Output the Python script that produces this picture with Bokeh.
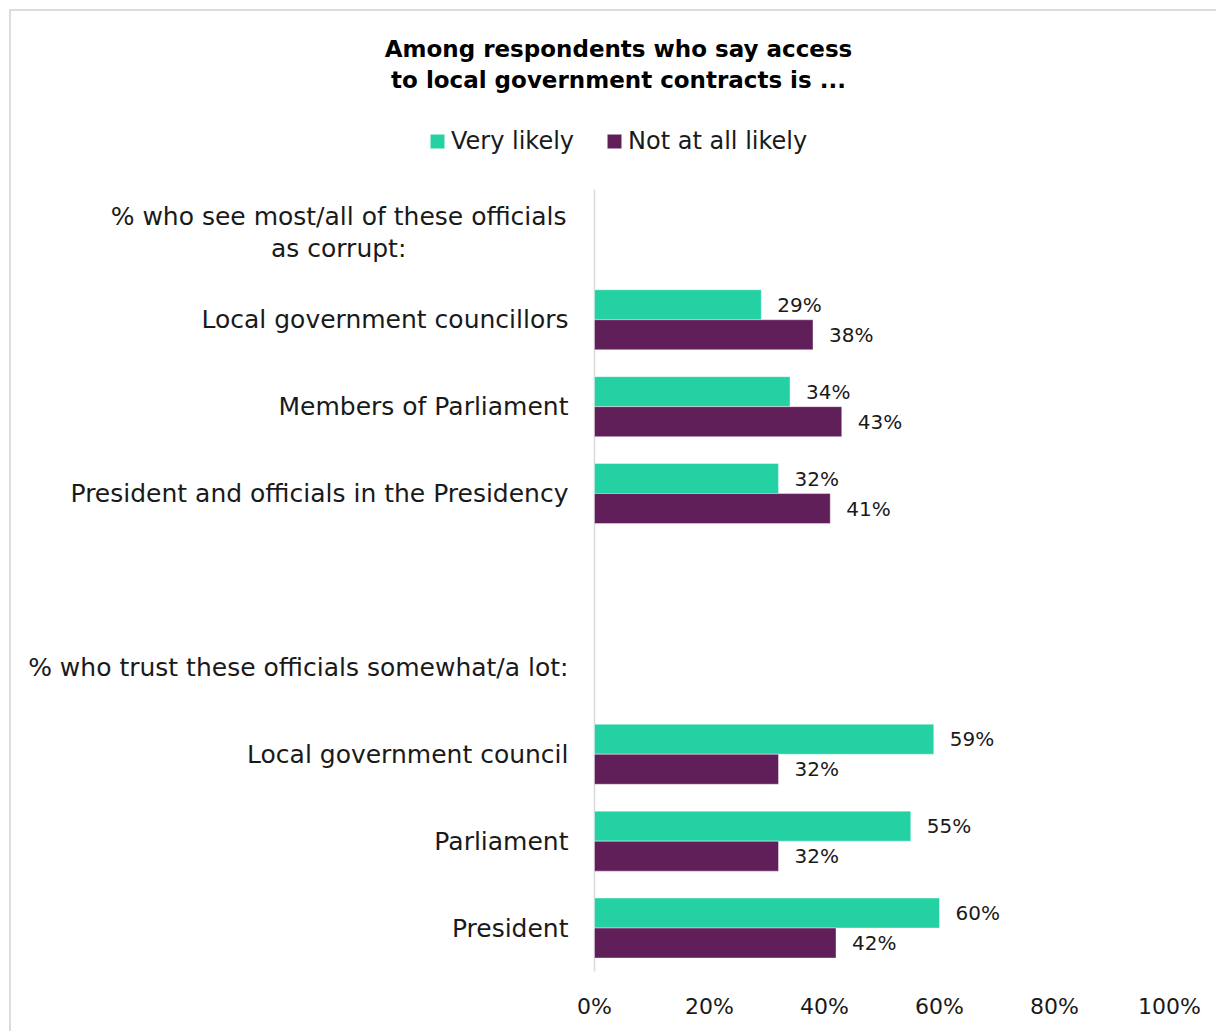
from bokeh.plotting import figure
from bokeh.models import Range1d, FixedTicker, LinearAxis, Legend, LegendItem, ColumnDataSource
from bokeh.core.properties import value
from bokeh.embed import file_html
from bokeh.resources import INLINE

# ---------------- data ----------------
title_lines = ["Among respondents who say access", "to local government contracts is ..."]
series_names = ["Very likely", "Not at all likely"]
group_headers = ["% who see most/all of these officials\nas corrupt:",
                 "% who trust these officials somewhat/a lot:"]
corrupt_categories = ["Local government councillors", "Members of Parliament",
                      "President and officials in the Presidency"]
corrupt_very_likely = [29, 34, 32]
corrupt_not_at_all = [38, 43, 41]
trust_categories = ["Local government council", "Parliament", "President"]
trust_very_likely = [59, 55, 60]
trust_not_at_all = [32, 32, 42]
tick_values = [0, 20, 40, 60, 80, 100]
tick_labels = ["0%", "20%", "40%", "60%", "80%", "100%"]

# ---------------- layout constants ----------------
GREEN = "#24D1A3"
PURPLE = "#611F5A"
TEXT = "#1a1a1a"
GRAY = "#d9d9d9"
FONT = "DejaVu Sans"

W, H = 1207, 1022
frame_h = 973
BOTTOM = H - frame_h
x0_px = 583.0          # canvas x of 0%
px_x = 5.75            # px per percentage point
y0_px = 960.0          # canvas y of row-axis 0
px_y = 86.9            # px per row

x_start = -x0_px / px_x
x_end = (W - x0_px) / px_x
y_start = -(frame_h - y0_px) / px_y
y_end = y0_px / px_y

# rows, top to bottom: header1, 3 cats, blank, header2, 3 cats
n_rows = 9
row_y = [n_rows - 0.5 - k for k in range(n_rows)]
header_y = [row_y[0], row_y[5]]
cats = corrupt_categories + trust_categories
cat_y = row_y[1:4] + row_y[6:9]
very = corrupt_very_likely + trust_very_likely
notat = corrupt_not_at_all + trust_not_at_all

off = 15.0 / px_y
bar_h = 30.0 / px_y

src_v = ColumnDataSource(dict(y=[c + off for c in cat_y], v=very, lab=[f"{v}%" for v in very]))
src_n = ColumnDataSource(dict(y=[c - off for c in cat_y], v=notat, lab=[f"{v}%" for v in notat]))

p = figure(width=W, height=H, x_range=Range1d(x_start, x_end), y_range=Range1d(y_start, y_end),
           output_backend="svg", toolbar_location=None,
           min_border_left=0, min_border_right=0, min_border_top=0, min_border_bottom=BOTTOM,
           x_axis_location=None, y_axis_location=None)
p.grid.visible = False
p.outline_line_color = None
p.background_fill_color = "white"
p.border_fill_color = "white"
p.styles = {"border-top": "2px solid #dcdcdc", "border-left": "2px solid #dcdcdc",
            "margin-top": "9px", "margin-left": "9px"}

ax = LinearAxis(ticker=FixedTicker(ticks=tick_values),
                major_label_overrides={t: l for t, l in zip(tick_values, tick_labels)},
                axis_line_color=None, major_tick_line_color=None, minor_tick_line_color=None,
                major_label_standoff=3, major_label_text_font=FONT,
                major_label_text_font_size="22px", major_label_text_color=TEXT)
p.add_layout(ax, "below")

# vertical category axis line
p.segment(x0=[0], y0=[0], x1=[0], y1=[n_rows], line_color=GRAY, line_width=1.5)

r_v = p.hbar(y="y", right="v", left=0, height=bar_h, source=src_v,
             fill_color=GREEN, line_color="white", line_alpha=0.4, line_width=1)
r_n = p.hbar(y="y", right="v", left=0, height=bar_h, source=src_n,
             fill_color=PURPLE, line_color="white", line_alpha=0.4, line_width=1)

for s in (src_v, src_n):
    p.text(x="v", y="y", text="lab", source=s, x_offset=16, text_align="left",
           text_baseline="middle", text_font=value(FONT), text_font_size=value("20px"),
           text_color=TEXT)

label_x = -26.0 / px_x
p.text(x=[label_x] * len(cats), y=cat_y, text=cats, text_align="right", text_baseline="middle",
       text_font=value(FONT), text_font_size=value("25px"), text_color=TEXT)
p.text(x=[-44.5], y=[header_y[0]], text=[group_headers[0]], text_align="center",
       text_baseline="middle", text_line_height=1.1,
       text_font=value(FONT), text_font_size=value("25px"), text_color=TEXT)
p.text(x=[label_x], y=[header_y[1]], text=[group_headers[1]], text_align="right",
       text_baseline="middle", text_font=value(FONT), text_font_size=value("25px"), text_color=TEXT)

# title
title_y = [(y0_px - 37) / px_y, (y0_px - 68) / px_y]
p.text(x=[24.0 / px_x] * 2, y=title_y, text=title_lines, text_align="center",
       text_baseline="middle", text_font=value(FONT), text_font_size=value("23px"),
       text_font_style="bold", text_color="black")

legend = Legend(items=[LegendItem(label=series_names[0], renderers=[r_v]),
                       LegendItem(label=series_names[1], renderers=[r_n])],
                orientation="horizontal", location=(417, 829),
                glyph_width=18, glyph_height=18, label_standoff=5, spacing=31,
                padding=0, margin=0, border_line_color=None, background_fill_alpha=0,
                label_text_font=FONT, label_text_font_size="24px", label_text_color=TEXT,
                label_text_baseline="middle")
p.add_layout(legend)

open("out.html", "w").write(file_html(p, INLINE))
